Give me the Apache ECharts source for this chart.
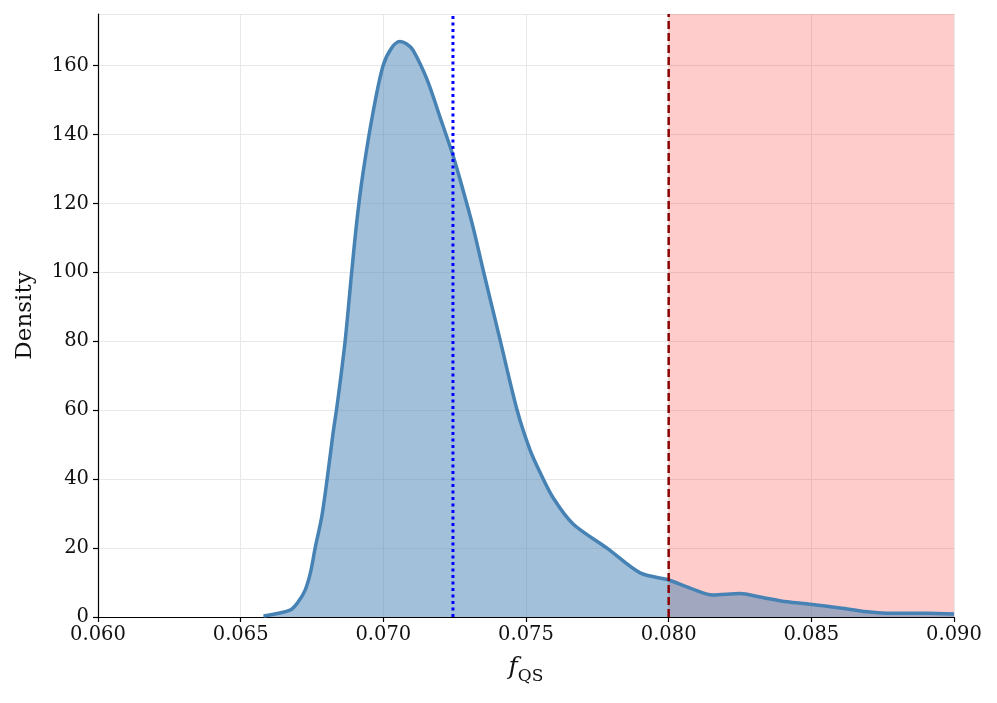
<!DOCTYPE html>
<html>
<head>
<meta charset="utf-8">
<script src="https://cdn.jsdelivr.net/npm/echarts@6/dist/echarts.min.js"></script>
<style>
  html, body { margin: 0; padding: 0; background: #fff; }
  #chart { width: 997px; height: 703px; }
</style>
</head>
<body>
<div id="chart"></div>
<script>
// KDE of f_QS
const fqs = [
  0.06580, 0.06673, 0.06700, 0.06726, 0.06745, 0.06761, 0.06784, 0.06803,
  0.06824, 0.06839, 0.06866, 0.06889, 0.06908, 0.06929, 0.06964, 0.06999,
  0.07030, 0.07058, 0.07082, 0.07104, 0.07153, 0.07199, 0.07244, 0.07279,
  0.07314, 0.07349, 0.07409, 0.07469, 0.07514, 0.07549, 0.07595, 0.07665,
  0.07784, 0.07900, 0.07998, 0.08075, 0.08155, 0.08250, 0.08320, 0.08415,
  0.08495, 0.08601, 0.08695, 0.08765, 0.08905, 0.09000
]
const density = [
  0.3, 2, 4.2, 7.8, 13, 20, 29, 40,
  53.5, 62, 80, 100, 115.5, 129, 146.5, 160,
  165.3, 167, 166.3, 164.5, 156, 145, 134, 124,
  113.3, 101, 80.5, 60, 48.5, 42, 34.6, 27,
  20, 12.8, 10.8, 8.4, 6.4, 6.8, 5.8, 4.4,
  3.7, 2.6, 1.5, 1.1, 1.1, 0.9
]
// vertical reference lines
const meanValue = 0.07244
const threshold = 0.080
const regionEnd = 0.090
const yRange = [0, 175]
const xTicks = [0.060, 0.065, 0.070, 0.075, 0.080, 0.085, 0.090]

const chart = echarts.init(document.getElementById('chart'))
const serif = "'DejaVu Serif', serif"

const vline = (x, color, width, dash, z) => ({
  type: 'line',
  z: z,
  data: yRange.map(y => [x, y]),
  showSymbol: false,
  silent: true,
  lineStyle: { color: color, width: width, type: dash },
  emphasis: { disabled: true }
})

const option = {
  animation: false,
  backgroundColor: '#fff',
  grid: { left: 98, right: 43, top: 14, bottom: 86 },
  xAxis: {
    type: 'value',
    min: xTicks[0],
    max: xTicks[xTicks.length - 1],
    interval: 0.005,
    name: '{f|f}{s|QS}',
    nameLocation: 'middle',
    nameGap: 38,
    nameTextStyle: {
      rich: {
        f: { fontFamily: serif, fontStyle: 'italic', fontSize: 25, color: '#111', verticalAlign: 'bottom' },
        s: { fontFamily: serif, fontSize: 17, color: '#111', verticalAlign: 'bottom', padding: [0, 0, -5, 0] }
      }
    },
    axisLine: { lineStyle: { color: '#000', width: 1.2 } },
    axisTick: { length: 5, lineStyle: { color: '#000', width: 1.2 } },
    axisLabel: {
      fontFamily: serif, fontSize: 19.5, color: '#111', margin: 8,
      formatter: v => v.toFixed(3)
    },
    splitLine: { show: true, lineStyle: { color: '#e8e8e8', width: 1 } }
  },
  yAxis: {
    type: 'value',
    min: yRange[0],
    max: yRange[1],
    interval: 20,
    name: 'Density',
    nameLocation: 'middle',
    nameGap: 61,
    nameTextStyle: { fontFamily: serif, fontSize: 23, color: '#111' },
    axisLine: { show: true, lineStyle: { color: '#000', width: 1.2 } },
    axisTick: { show: true, length: 5, lineStyle: { color: '#000', width: 1.2 } },
    axisLabel: {
      fontFamily: serif, fontSize: 19.5, color: '#111', margin: 9,
      showMaxLabel: false
    },
    splitLine: { show: true, lineStyle: { color: '#e8e8e8', width: 1 } }
  },
  series: [
    {
      // shaded region beyond the threshold
      type: 'line',
      z: 1,
      data: [],
      markArea: {
        silent: true,
        itemStyle: { color: 'rgba(255, 0, 0, 0.2)' },
        data: [[{ xAxis: threshold }, { xAxis: regionEnd }]]
      }
    },
    {
      type: 'line',
      z: 2,
      data: fqs.map((x, i) => [x, density[i]]),
      smooth: 0.3,
      showSymbol: false,
      lineStyle: { color: '#4682b4', width: 3.5 },
      areaStyle: { color: '#4682b4', opacity: 0.5 },
      emphasis: { disabled: true }
    },
    vline(meanValue, '#0000ff', 3, [3, 3.5], 3),
    vline(threshold, '#8b0000', 2.5, [8, 4], 3)
  ]
}

chart.setOption(option)
</script>
</body>
</html>
